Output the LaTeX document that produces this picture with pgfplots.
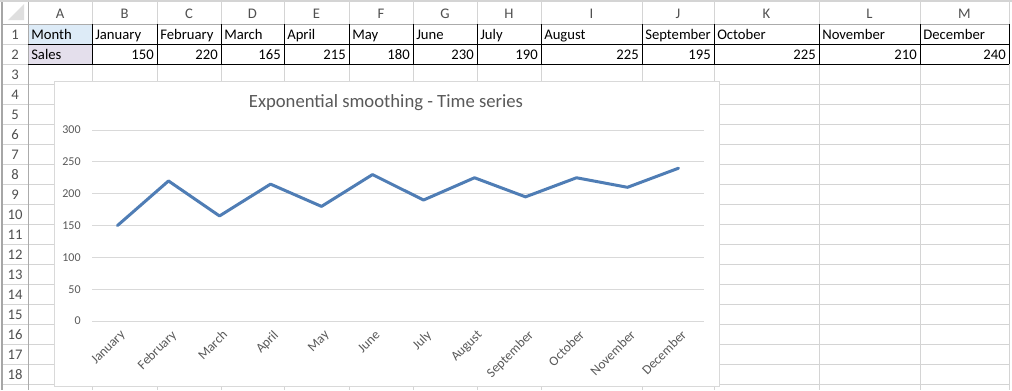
\documentclass[border=0pt]{standalone}
\usepackage{pgfplots}
\pgfplotsset{compat=1.18}
\usepackage{fontspec}
\setmainfont{Carlito}
\definecolor{gridc}{HTML}{D4D4D4}
\definecolor{hdrline}{HTML}{ABABAB}
\definecolor{hdrtext}{HTML}{505050}
\definecolor{charttext}{HTML}{595959}
\definecolor{chartgrid}{HTML}{D9D9D9}
\definecolor{linec}{HTML}{4F7DB5}
\definecolor{monthfill}{HTML}{DDEBF7}
\definecolor{salesfill}{HTML}{E4DFEC}
\begin{document}
\begin{tikzpicture}[x=0.75pt,y=-0.75pt]
\useasboundingbox (0,0) rectangle (1012,390);
\clip (0,0) rectangle (1012,390);
\fill[white] (0,0) rectangle (1012,390);
% select-all triangle
\fill[gray!25] (24,4) -- (24,20) -- (8,20) -- cycle;
% cell fills
\fill[monthfill] (28,24) rectangle (92,44);
\fill[salesfill] (28,44) rectangle (92,64);
% sheet grid
\foreach \y in {64,84,...,384} \draw[gridc, line width=0.75pt] (28,\y) -- (1010,\y);
\foreach \y in {44,64,...,384} \draw[gridc, line width=0.75pt] (2,\y) -- (28,\y);
\foreach \x in {92,157,221,284,349,413,477,541,642,714,819,920,1009} \draw[gridc, line width=0.75pt] (\x,0) -- (\x,390);
\draw[hdrline, line width=0.75pt] (28,0) -- (28,390);
\draw[hdrline, line width=0.75pt] (2,24) -- (1010,24);
\draw[gray!70, line width=1.5pt] (2,0) -- (2,390);
\draw[gridc, line width=1.5pt] (0,0.5) -- (1012,0.5);
% table borders
\draw[black, line width=0.75pt] (28,44) -- (1009,44);
\draw[black, line width=0.75pt] (28,64) -- (1009,64);
\foreach \x in {92,157,221,284,349,413,477,541,642,714,819,920,1009} \draw[black, line width=0.75pt] (\x,24) -- (\x,64);
% column letters
\foreach \c/\l in {60/A,124.5/B,189/C,252.5/D,316.5/E,381/F,445/G,509/H,591.5/I,678/J,766.5/K,869.5/L,964.5/M}
  \node[anchor=base, inner sep=0pt, text=hdrtext, font=\fontsize{11}{13}\selectfont] at (\c,18.5) {\l};
% row numbers
\foreach \r in {1,...,18}
  \node[anchor=base, inner sep=0pt, text=hdrtext, font=\fontsize{11}{13}\selectfont] at (15,19.5+20*\r) {\r};
% cell texts
\foreach \x/\t in {28/Month,92/January,157/February,221/March,284/April,349/May,413/June,477/July,541/August,642/September,714/October,819/November,920/December}
  \node[anchor=base west, inner sep=0pt, font=\fontsize{11}{13}\selectfont] at (\x+3,39.5) {\t};
\node[anchor=base west, inner sep=0pt, font=\fontsize{11}{13}\selectfont] at (31,59.5) {Sales};
\foreach \x/\t in {157/150,221/220,284/165,349/215,413/180,477/230,541/190,642/225,714/195,819/225,920/210,1009/240}
  \node[anchor=base east, inner sep=0pt, font=\fontsize{11}{13}\selectfont] at (\x-3,59.5) {\t};
% chart area
\filldraw[fill=white, draw=chartgrid, line width=0.75pt] (54,81) rectangle (719,386);
\node[text=charttext, font=\fontsize{14}{16}\selectfont] at (386,103) {Exponential smoothing - Time series};
\begin{axis}[
  at={(69pt,-240.75pt)}, anchor=south west,
  scale only axis, width=459pt, height=143.25pt,
  xmin=-0.5, xmax=11.5, ymin=0, ymax=300,
  ytick={0,50,...,300},
  xtick={0,...,11},
  xticklabels={January,February,March,April,May,June,July,August,September,October,November,December},
  ymajorgrids, grid style={chartgrid, line width=0.75pt},
  axis line style={draw=none},
  major tick length=0pt,
  tick label style={font=\fontsize{9}{10}\selectfont, text=charttext},
  x tick label style={font=\fontsize{10}{11}\selectfont, anchor=north east, inner sep=0pt, yshift=-6pt, xshift=1.5pt, rotate=45},
  y tick label style={xshift=-5pt},
  /pgf/number format/assume math mode=true,
  clip=false,
]
\addplot[linec, line width=2.25pt, line join=round, line cap=round] coordinates {
(0,150) (1,220) (2,165) (3,215) (4,180) (5,230) (6,190) (7,225) (8,195) (9,225) (10,210) (11,240)};
\end{axis}
\end{tikzpicture}
\end{document}
